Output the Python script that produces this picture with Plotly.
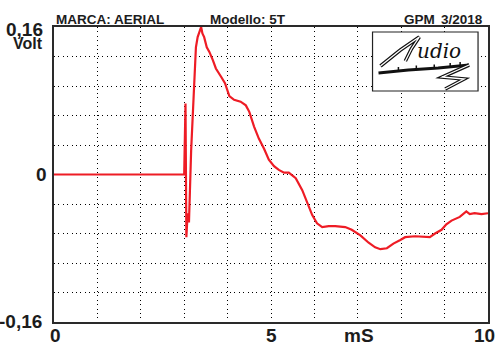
import plotly.graph_objects as go

# Impulse response trace: time in milliseconds, amplitude in volts
time_ms = [0.00, 3.00, 3.03, 3.05, 3.08, 3.11, 3.16, 3.20, 3.23, 3.27, 3.31, 3.36,
           3.39, 3.42, 3.46, 3.52, 3.58, 3.66, 3.73, 3.85, 3.94, 4.04, 4.15, 4.30,
           4.42, 4.50, 4.61, 4.72, 4.84, 4.95, 5.07, 5.18, 5.30, 5.41, 5.57, 5.72,
           5.83, 5.95, 6.06, 6.18, 6.33, 6.48, 6.71, 6.86, 7.06, 7.25, 7.40, 7.52,
           7.67, 7.82, 7.98, 8.09, 8.32, 8.66, 8.78, 8.93, 9.04, 9.16, 9.35, 9.43,
           9.50, 9.58, 9.69, 9.85, 10.00]
volt = [0.000, 0.000, 0.077, -0.068, -0.042, -0.052, 0.026, 0.070, 0.100, 0.138, 0.149, 0.156,
        0.160, 0.153, 0.149, 0.138, 0.133, 0.124, 0.115, 0.106, 0.099, 0.085, 0.081, 0.079,
        0.075, 0.068, 0.052, 0.039, 0.028, 0.016, 0.009, 0.005, 0.002, 0.002, -0.004, -0.017,
        -0.031, -0.044, -0.053, -0.057, -0.056, -0.056, -0.057, -0.060, -0.066, -0.074, -0.079, -0.081,
        -0.080, -0.075, -0.071, -0.068, -0.067, -0.068, -0.064, -0.060, -0.054, -0.050, -0.046, -0.043,
        -0.040, -0.043, -0.042, -0.043, -0.042]

x_tick_vals = [0, 5, 10]
x_tick_text = ["0", "5", "10"]
y_tick_vals = [0.16, 0, -0.16]
y_tick_text = ["0,16", "0", "-0,16"]

W, H = 498, 342
L, R, T, B = 54, 8, 27, 20
PW, PH = W - L - R, H - T - B

INK = "#1c1c1c"
RED = "#ee1c25"
FONT = "Liberation Sans"


def px(x):
    return (x - L) / PW


def py(y):
    return (H - B - y) / PH


def path(points):
    return "M " + " L ".join(f"{px(a):.5f},{py(b):.5f}" for a, b in points)


fig = go.Figure()
fig.add_trace(go.Scatter(x=time_ms, y=volt, mode="lines",
                         line=dict(color=RED, width=2.2), hoverinfo="skip"))

axis_common = dict(showline=True, linecolor="#2a2a2a", linewidth=2, mirror=True,
                   showgrid=True, gridcolor="#000000", gridwidth=1,
                   griddash="1px,3.4px", zeroline=False, showticklabels=False,
                   ticks="", fixedrange=True)
fig.update_xaxes(range=[0, 10], dtick=1, tick0=0, **axis_common)
fig.update_yaxes(range=[-0.16, 0.16], dtick=0.032, tick0=0, **axis_common)

ann = []
# x-axis labels
x_label_shift = [1, 0, -4]
for v, t, s in zip(x_tick_vals, x_tick_text, x_label_shift):
    ann.append(dict(x=v, y=py(335), xref="x", yref="paper", text=f"<b>{t}</b>",
                    showarrow=False, xanchor="center", yanchor="middle", xshift=s,
                    borderpad=0, font=dict(family=FONT, size=19, color=INK)))
ann.append(dict(x=px(360), y=py(335), xref="paper", yref="paper", text="<b>mS</b>",
                showarrow=False, xanchor="center", yanchor="middle", borderpad=0,
                font=dict(family=FONT, size=19, color=INK)))
# y-axis labels
y_label_pos = {0.16: (44, 30), 0: (48, 174), -0.16: (43, 321)}
for v, t in zip(y_tick_vals, y_tick_text):
    r, yy = y_label_pos[v]
    ann.append(dict(x=px(r), y=py(yy), xref="paper", yref="paper", text=f"<b>{t}</b>",
                    showarrow=False, xanchor="right", yanchor="middle", borderpad=0,
                    font=dict(family=FONT, size=19, color=INK)))
ann.append(dict(x=px(44), y=py(44), xref="paper", yref="paper", text="<b>Volt</b>",
                showarrow=False, xanchor="right", yanchor="middle", borderpad=0,
                font=dict(family=FONT, size=16, color=INK)))
# header line
for text, x, anchor in [("MARCA: AERIAL", 54, "left"), ("Modello: 5T", 209, "left"),
                        ("GPM", 404, "left"), ("3/2018", 487, "right")]:
    ann.append(dict(x=px(x), y=py(20), xref="paper", yref="paper", text=f"<b>{text}</b>",
                    showarrow=False, xanchor=anchor, yanchor="middle",
                    font=dict(family=FONT, size=13.5, color=INK)))
# logo lettering
ann.append(dict(x=px(441), y=py(51), xref="paper", yref="paper", text="<i>udio</i>",
                showarrow=False, xanchor="center", yanchor="middle",
                font=dict(family="DejaVu Serif", size=20, color="#111111")))

shapes = []
# logo frame
shapes.append(dict(type="rect", xref="paper", yref="paper",
                   x0=px(374), x1=px(480), y0=py(91), y1=py(32),
                   fillcolor="white", line=dict(color="#222222", width=1.2)))
# stylised capital A drawn as an outlined stroke
a_stroke = [(382, 66), (402, 50), (421, 37), (413, 49), (407, 61)]
shapes.append(dict(type="path", xref="paper", yref="paper", path=path(a_stroke),
                   line=dict(color="#111111", width=3.6)))
shapes.append(dict(type="path", xref="paper", yref="paper", path=path(a_stroke),
                   line=dict(color="white", width=1.3)))
# underline bar with small ticks
shapes.append(dict(type="path", xref="paper", yref="paper",
                   path=path([(380, 73), (410, 70), (440, 68), (471, 65)]),
                   line=dict(color="#111111", width=3)))
for tx, ty in [(400, 71), (418, 69.5), (436, 68.5), (452, 67), (462, 66)]:
    shapes.append(dict(type="path", xref="paper", yref="paper",
                       path=path([(tx, ty), (tx, ty - 4)]),
                       line=dict(color="#111111", width=1.5)))
# squiggle tail
tail = [(471, 65), (444, 77), (466, 79), (447, 89)]
shapes.append(dict(type="path", xref="paper", yref="paper", path=path(tail),
                   line=dict(color="#111111", width=3.6)))
shapes.append(dict(type="path", xref="paper", yref="paper", path=path(tail),
                   line=dict(color="white", width=1.3)))

fig.update_layout(width=W, height=H, margin=dict(l=L, r=R, t=T, b=B),
                  paper_bgcolor="white", plot_bgcolor="white", showlegend=False,
                  annotations=ann, shapes=shapes)

fig.write_html("out.html")
